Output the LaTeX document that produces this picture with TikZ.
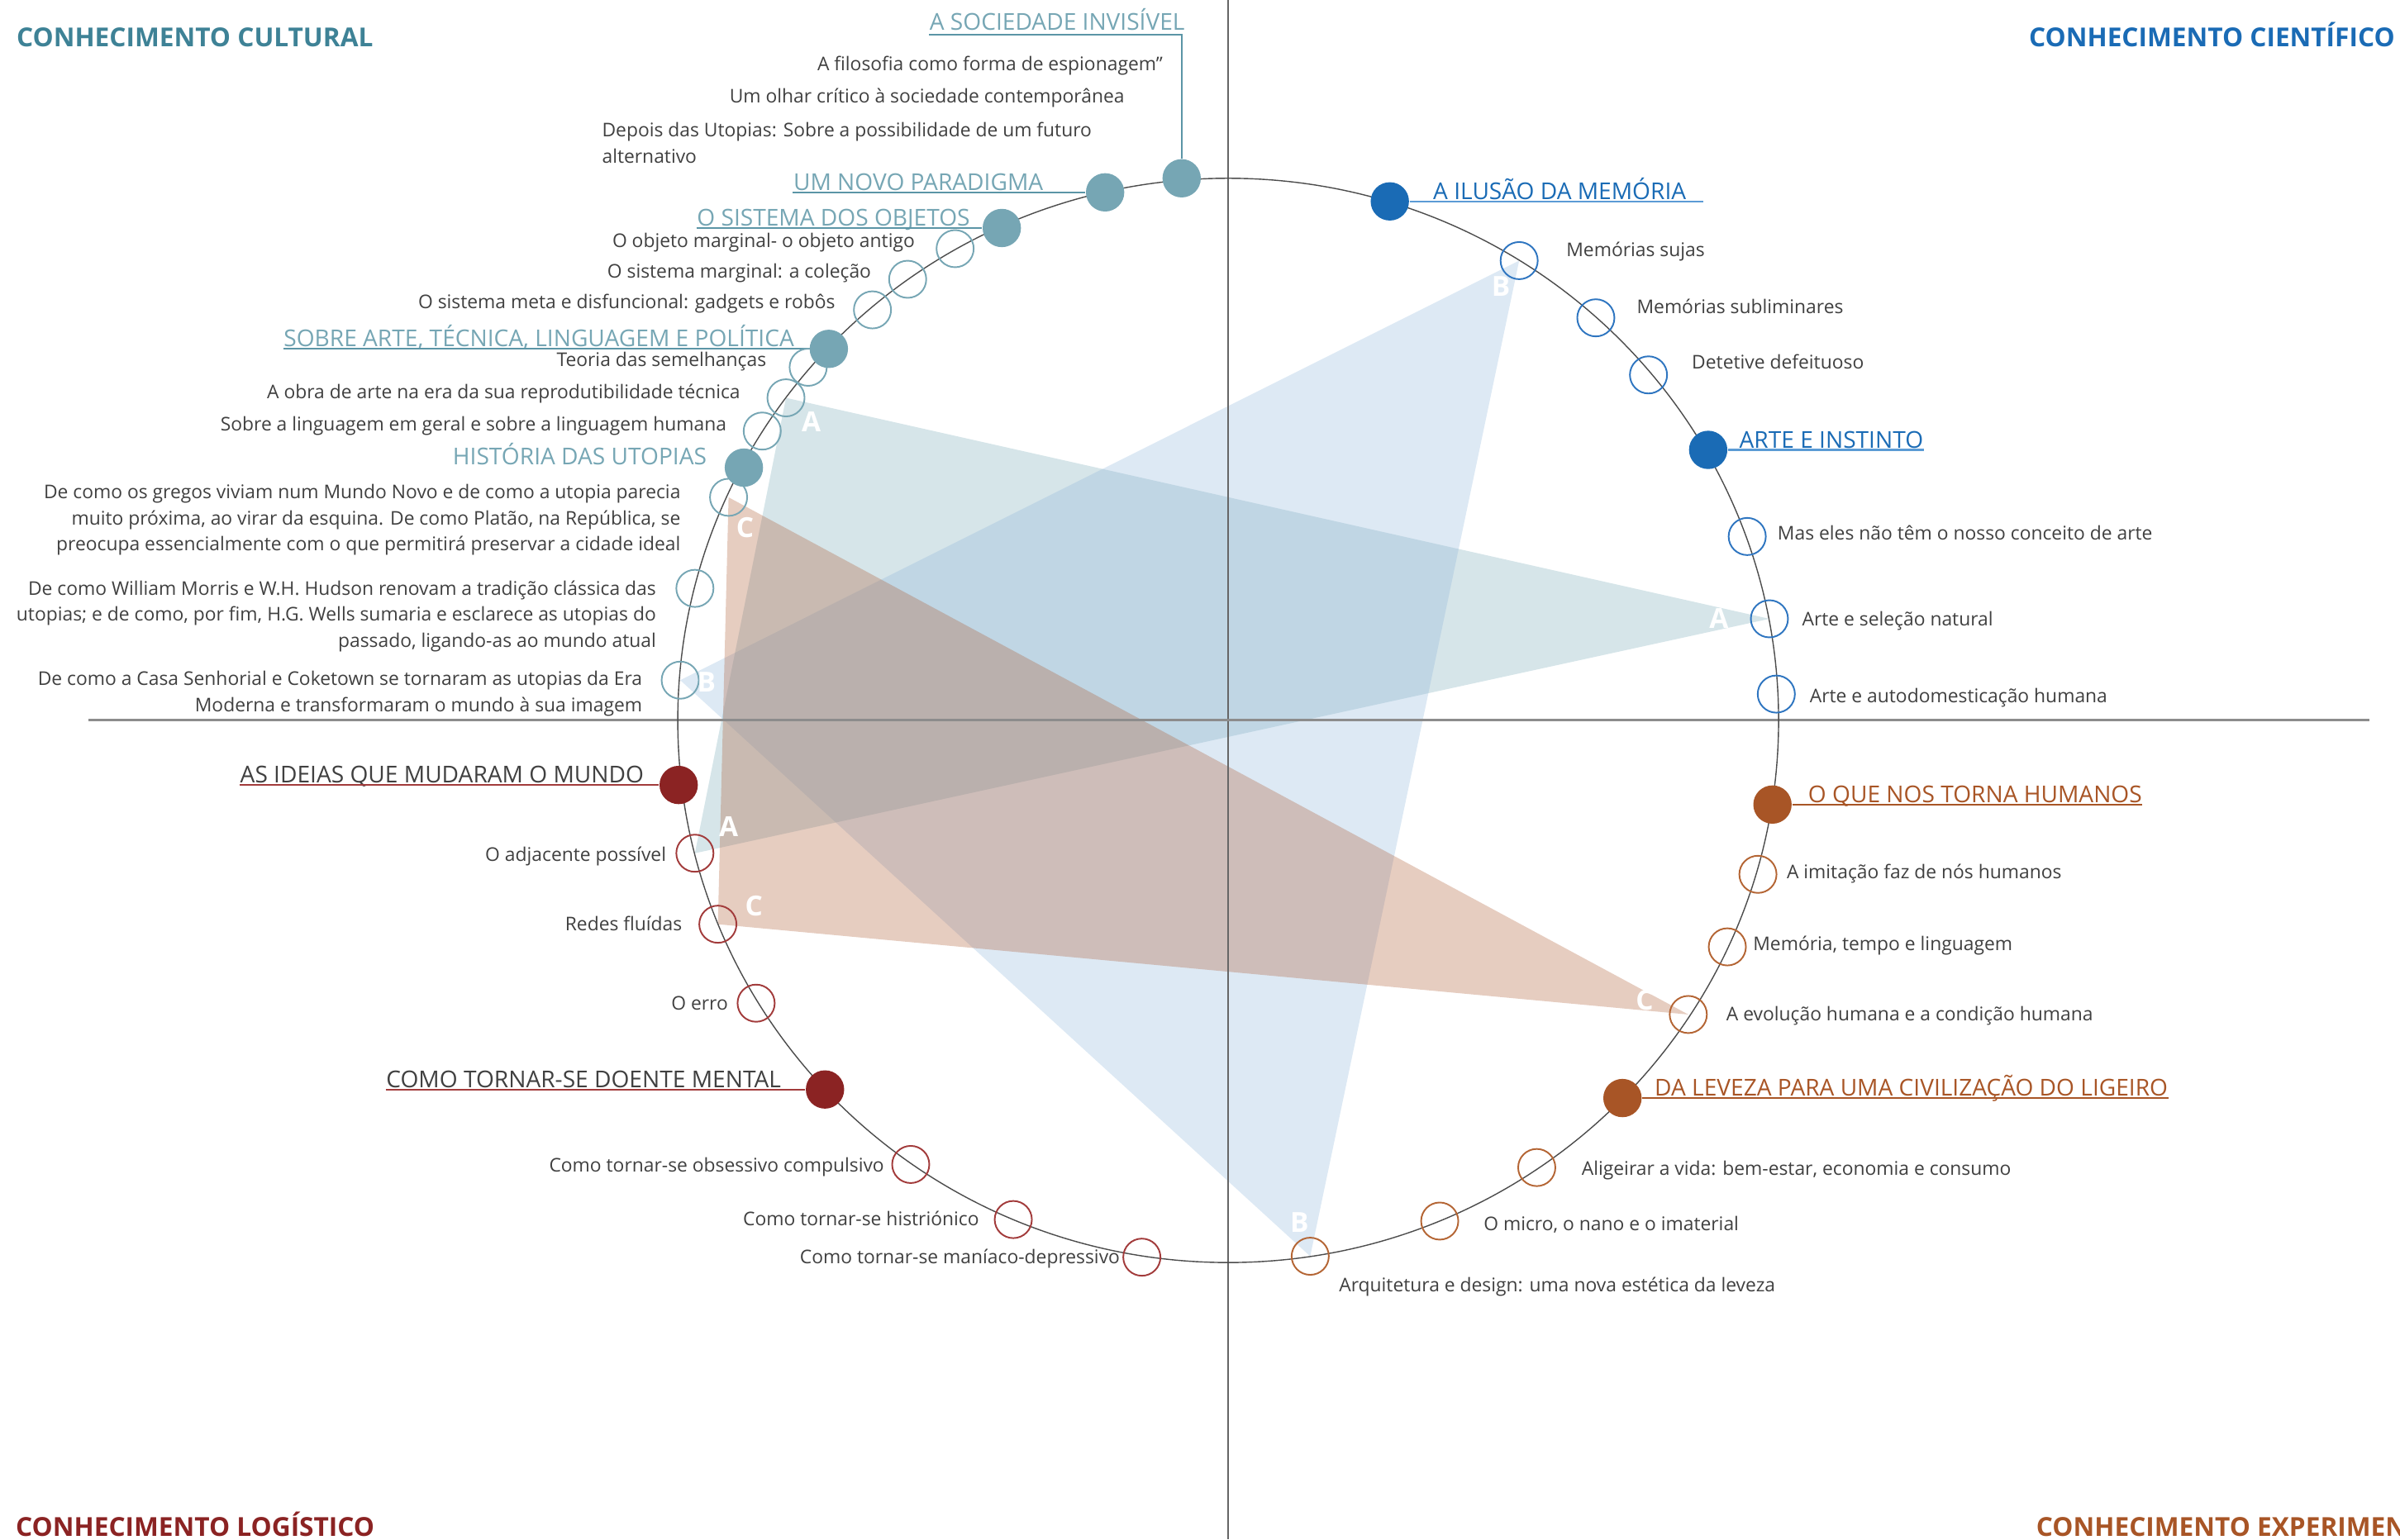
\documentclass[tikz,border=0pt]{standalone}
\usepackage{fontspec}
\setmainfont{Open Sans}
\usepackage{tikz}
\usetikzlibrary{positioning,backgrounds}
\definecolor{tealD}{HTML}{3E8296}
\definecolor{tealL}{HTML}{76A6B4}
\definecolor{tealM}{HTML}{5B95A6}
\definecolor{blueD}{HTML}{1A6BB5}
\definecolor{blueL}{HTML}{5B9BD5}
\definecolor{blueR}{HTML}{2E75C0}
\definecolor{redD}{HTML}{8B2323}
\definecolor{redR}{HTML}{A23B3B}
\definecolor{brownD}{HTML}{A85526}
\definecolor{brownR}{HTML}{B46534}
\definecolor{txt}{HTML}{404040}
\definecolor{triA}{RGB}{118,168,182}
\definecolor{triB}{RGB}{142,182,218}
\definecolor{triC}{RGB}{172,88,48}
\tikzset{
	hub/.style = {circle, fill=#1, inner sep=0pt, minimum size=13.2pt},
	ring/.style = {circle, draw=#1, line width=0.55pt, inner sep=0pt, minimum size=12.8pt},
	sub/.style = {inner sep=0pt, text=txt, font=\fontsize{6.5}{9}\selectfont},
	topic/.style = {inner xsep=0pt, inner ysep=0.5pt, text depth=0pt, font=\fontsize{8}{10}\selectfont},
	quad/.style = {inner sep=0pt, font=\fontsize{9}{11}\selectfont\bfseries},
	uline/.style = {draw=#1, line width=0.6pt},
	trilabel/.style = {inner sep=0pt, text=white, font=\fontsize{9.5}{11}\selectfont\bfseries},
	tri/.style = {fill=#1, fill opacity=0.3},
}

\begin{document}
\begin{tikzpicture}[x=0.01852cm, y=-0.01852cm]
  \useasboundingbox (0,0) rectangle (1568,1006);
  \clip (0,0) rectangle (1568,1006);

  % axes and the ring path
  \draw[black!60, line width=0.4pt] (802.4,0) -- (802.4,1006);
  \draw[black!45, line width=0.85pt] (58,470.8) -- (1548,470.8);
  \draw[black!70, line width=0.4pt] (802.4,470.8) ellipse [x radius=359.6, y radius=354.3];

  % quadrant titles
  \node[quad, text=tealD, anchor=base west] (qCul) at (10.5,30.6) {CONHECIMENTO CULTURAL};
  \node[quad, text=blueD, anchor=base east] (qCie) at (1565,30.6) {CONHECIMENTO CIENTÍFICO};
  \node[quad, text=redD, anchor=base west] (qLog) at (10,1004) {CONHECIMENTO LOGÍSTICO};
  \node[quad, text=brownD, anchor=base west] (qExp) at (1330,1004) {CONHECIMENTO EXPERIMENTAL};

  % cultural
  \node[hub=tealL] (cuSoc) at (772,116.5) {};
  \node[topic, inner ysep=1.6pt, text=tealL, anchor=south west] (cuSocT) at (607,22.9) {A SOCIEDADE INVISÍVEL};
  \draw[uline=tealM] (cuSocT.south west) -| (cuSoc);
  \node[sub, anchor=base east] (cuSoc1) at (760,46) {A filosofia como forma de espionagem”};
  \node[sub, anchor=base east] (cuSoc2) at (735,67) {Um olhar crítico à sociedade contemporânea};
  \node[sub, anchor=base west, align=left] (cuSoc3) at (393,106.6) {Depois das Utopias: Sobre a possibilidade de um futuro\\alternativo};

  \node[hub=tealL] (cuPar) at (722,125.7) {};
  \node[topic, text=tealL, anchor=south west] (cuParT) at (518,125.7) {UM NOVO PARADIGMA};
  \draw[uline=tealM] (cuParT.south west) -- (cuPar);

  \node[hub=tealL] (cuObj) at (654.5,149) {};
  \node[topic, text=tealL, anchor=south west] (cuObjT) at (455,149) {O SISTEMA DOS OBJETOS};
  \draw[uline=tealM] (cuObjT.south west) -- (cuObj);
  \node[ring=tealL] (cuObj1) at (624,162.5) {};
  \node[sub, anchor=base east] (cuObj1T) at (598,161.5) {O objeto marginal- o objeto antigo};
  \node[ring=tealL] (cuObj2) at (593,182.5) {};
  \node[sub, anchor=base east] (cuObj2T) at (569.5,181.8) {O sistema marginal: a coleção};
  \node[ring=tealL] (cuObj3) at (570,202.5) {};
  \node[sub, anchor=base east] (cuObj3T) at (546,201.5) {O sistema meta e disfuncional: gadgets e robôs};

  \node[hub=tealL] (cuArt) at (541.5,228) {};
  \node[topic, text=tealL, anchor=south west] (cuArtT) at (185,228) {SOBRE ARTE, TÉCNICA, LINGUAGEM E POLÍTICA};
  \draw[uline=tealM] (cuArtT.south west) -- (cuArt);
  \node[ring=tealL] (cuArt1) at (528,240) {};
  \node[sub, anchor=base east] (cuArt1T) at (501,239.7) {Teoria das semelhanças};
  \node[ring=tealL] (cuArt2) at (513.5,260) {};
  \node[sub, anchor=base east] (cuArt2T) at (484,260.4) {A obra de arte na era da sua reprodutibilidade técnica};
  \node[ring=tealL] (cuArt3) at (498,281.7) {};
  \node[sub, anchor=base east] (cuArt3T) at (475,281.6) {Sobre a linguagem em geral e sobre a linguagem humana};

  \node[hub=tealL] (cuUto) at (486,305.6) {};
  \node[topic, text=tealL, anchor=base east] (cuUtoT) at (462,303.5) {HISTÓRIA DAS UTOPIAS};
  \node[ring=tealL] (cuUto1) at (476,325) {};
  \node[sub, anchor=base east, align=right] (cuUto1T) at (445,360) {De como os gregos viviam num Mundo Novo e de como a utopia parecia\\muito próxima, ao virar da esquina. De como Platão, na República, se\\preocupa essencialmente com o que permitirá preservar a cidade ideal};
  \node[ring=tealL] (cuUto2) at (454,384.5) {};
  \node[sub, anchor=base east, align=right] (cuUto2T) at (429,423) {De como William Morris e W.H. Hudson renovam a tradição clássica das\\utopias; e de como, por fim, H.G. Wells sumaria e esclarece as utopias do\\passado, ligando-as ao mundo atual};
  \node[ring=tealL] (cuUto3) at (444.4,444.5) {};
  \node[sub, anchor=base east, align=right] (cuUto3T) at (420,465) {De como a Casa Senhorial e Coketown se tornaram as utopias da Era\\Moderna e transformaram o mundo à sua imagem};

  % cientifico
  \node[hub=blueD] (ciMem) at (908,131.6) {};
  \node[topic, text=blueD, anchor=south west] (ciMemT) at (936,131.6) {A ILUSÃO DA MEMÓRIA};
  \draw[uline=blueL] (ciMem) -- ([xshift=5.8pt]ciMemT.south east);
  \node[ring=blueR] (ciMem1) at (992.5,170.3) {};
  \node[sub, anchor=base west] (ciMem1T) at (1023,167.4) {Memórias sujas};
  \node[ring=blueR] (ciMem2) at (1042.6,207.7) {};
  \node[sub, anchor=base west] (ciMem2T) at (1069,204.8) {Memórias subliminares};
  \node[ring=blueR] (ciMem3) at (1077,245) {};
  \node[sub, anchor=base west] (ciMem3T) at (1105,241) {Detetive defeituoso};

  \node[hub=blueD] (ciIns) at (1116,294) {};
  \node[topic, text=blueD, anchor=south west] (ciInsT) at (1136,294) {ARTE E INSTINTO};
  \draw[uline=blueL] (ciIns) -- (ciInsT.south east);
  \node[ring=blueR] (ciIns1) at (1141.5,350.6) {};
  \node[sub, anchor=base west] (ciIns1T) at (1161,353) {Mas eles não têm o nosso conceito de arte};
  \node[ring=blueR] (ciIns2) at (1156,404.4) {};
  \node[sub, anchor=base west] (ciIns2T) at (1177,408.9) {Arte e seleção natural};
  \node[ring=blueR] (ciIns3) at (1160.5,453.6) {};
  \node[sub, anchor=base west] (ciIns3T) at (1182,459) {Arte e autodomesticação humana};

  % logistico
  \node[hub=redD] (loIde) at (443.4,513) {};
  \node[topic, text=txt, anchor=south west] (loIdeT) at (156.6,513) {AS IDEIAS QUE MUDARAM O MUNDO};
  \draw[uline=redR] (loIdeT.south west) -- (loIde);
  \node[ring=redR] (loIde1) at (454,557.6) {};
  \node[sub, anchor=base east] (loIde1T) at (435.6,563) {O adjacente possível};
  \node[ring=redR] (loIde2) at (469,604) {};
  \node[sub, anchor=base east] (loIde2T) at (446,608) {Redes fluídas};
  \node[ring=redR] (loIde3) at (494,655.6) {};
  \node[sub, anchor=base east] (loIde3T) at (476,660) {O erro};

  \node[hub=redD] (loDoe) at (539,712) {};
  \node[topic, text=txt, anchor=south west] (loDoeT) at (252,712) {COMO TORNAR-SE DOENTE MENTAL};
  \draw[uline=redR] (loDoeT.south west) -- (loDoe);
  \node[ring=redR] (loDoe1) at (595,761) {};
  \node[sub, anchor=base east] (loDoe1T) at (578,766) {Como tornar-se obsessivo compulsivo};
  \node[ring=redR] (loDoe2) at (662,797) {};
  \node[sub, anchor=base east] (loDoe2T) at (640,801) {Como tornar-se histriónico};
  \node[ring=redR] (loDoe3) at (746,821.6) {};
  \node[sub, anchor=base east] (loDoe3T) at (732,826) {Como tornar-se maníaco-depressivo};

  % experimental
  \node[hub=brownD] (exHum) at (1158,525.8) {};
  \node[topic, text=brownD, anchor=south west] (exHumT) at (1181,525.8) {O QUE NOS TORNA HUMANOS};
  \draw[uline=brownD] (exHum) -- (exHumT.south east);
  \node[ring=brownR] (exHum1) at (1148.5,571.4) {};
  \node[sub, anchor=base west] (exHum1T) at (1167,574) {A imitação faz de nós humanos};
  \node[ring=brownR] (exHum2) at (1128.5,618.8) {};
  \node[sub, anchor=base west] (exHum2T) at (1145,621) {Memória, tempo e linguagem};
  \node[ring=brownR] (exHum3) at (1103,663) {};
  \node[sub, anchor=base west] (exHum3T) at (1127.5,667) {A evolução humana e a condição humana};

  \node[hub=brownD] (exLev) at (1060,717.6) {};
  \node[topic, text=brownD, anchor=south west] (exLevT) at (1080.7,717.6) {DA LEVEZA PARA UMA CIVILIZAÇÃO DO LIGEIRO};
  \draw[uline=brownD] (exLev) -- (exLevT.south east);
  \node[ring=brownR] (exLev1) at (1004,763) {};
  \node[sub, anchor=base west] (exLev1T) at (1033,768) {Aligeirar a vida: bem-estar, economia e consumo};
  \node[ring=brownR] (exLev2) at (940.6,798) {};
  \node[sub, anchor=base west] (exLev2T) at (969,804) {O micro, o nano e o imaterial};
  \node[ring=brownR] (exLev3) at (856,821) {};
  \node[sub, anchor=base west] (exLev3T) at (874.5,844) {Arquitetura e design: uma nova estética da leveza};

  % links A, B, C
  \begin{scope}[on background layer]
    \fill[tri=triA] (cuArt2.center) -- (ciIns2.center) -- (loIde1.center) -- cycle;
    \fill[tri=triB] (ciMem1.center) -- (cuUto3.center) -- (exLev3.center) -- cycle;
    \fill[tri=triC] (cuUto1.center) -- (loIde2.center) -- (exHum3.center) -- cycle;
  \end{scope}
  \node[trilabel] (a1) at (530,275.5) {A};
  \node[trilabel] (a2) at (1123,404.4) {A};
  \node[trilabel] (a3) at (476,540) {A};
  \node[trilabel] (b1) at (980.6,187) {B};
  \node[trilabel] (b2) at (461.6,445.5) {B};
  \node[trilabel] (b3) at (849,799) {B};
  \node[trilabel] (c1) at (486.8,344.6) {C};
  \node[trilabel] (c2) at (492.5,592) {C};
  \node[trilabel] (c3) at (1074.5,653.5) {C};
\end{tikzpicture}
\end{document}
